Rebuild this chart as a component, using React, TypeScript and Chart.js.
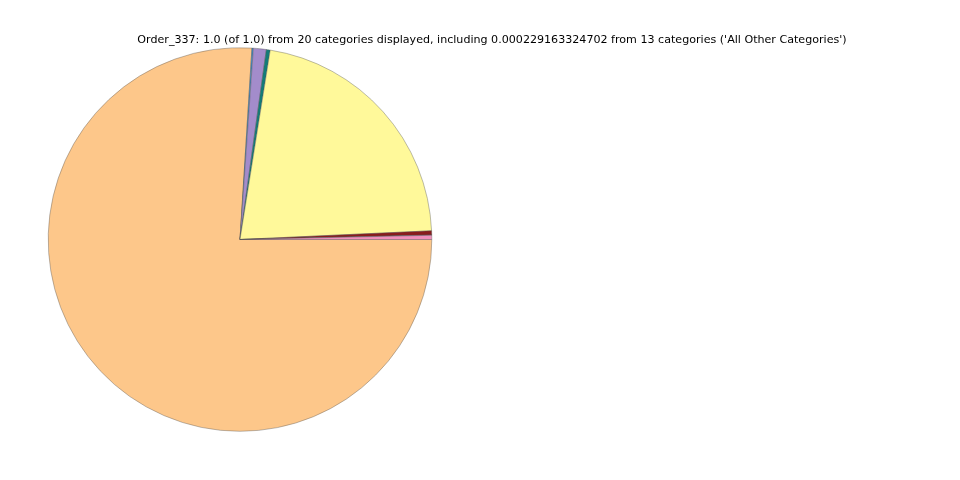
import React, { useEffect, useRef } from "react";
import { Chart, registerables } from "chart.js";

Chart.register(...registerables);

// Slices listed counter-clockwise starting at 3 o'clock (as in the reference)
const categories = [
  "Category G",
  "All Other Categories",
  "Category F",
  "Category B",
  "Category E",
  "Category C",
  "Category D",
  "Category A",
];
const shares = [0.0035, 0.000229163324702, 0.0035, 0.2175, 0.0033, 0.0108, 0.0012, 0.7598];
const colors = ["#f18fbb", "#777777", "#8a1c1c", "#fff99a", "#127c78", "#a38ccb", "#3d92d2", "#fdc78a"];
const titleText =
  "Order_337: 1.0 (of 1.0) from 20 categories displayed, including 0.000229163324702 from 13 categories ('All Other Categories')";

export default function App() {
  const ref = useRef<HTMLCanvasElement>(null);
  useEffect(() => {
    document.body.style.margin = "0";
    const ctx = ref.current!;
    const titlePlugin = {
      id: "customTitle",
      afterDraw(chart: any) {
        const c = chart.ctx;
        c.save();
        c.font = "11.1px 'DejaVu Sans'";
        c.fillStyle = "#000";
        c.textAlign = "center";
        c.textBaseline = "middle";
        c.fillText(titleText, 492, 40.5);
        c.restore();
      },
    };
    const chart = new Chart(ctx, {
      type: "pie",
      data: {
        labels: [...categories].reverse(),
        datasets: [
          {
            data: [...shares].reverse(),
            backgroundColor: [...colors].reverse(),
            borderColor: "#555555",
            borderWidth: 0.4,
          },
        ],
      },
      options: {
        animation: false,
        responsive: false,
        rotation: 90,
        layout: { padding: { left: 48, top: 47, right: 528, bottom: 48 } },
        plugins: {
          legend: { display: false },
          tooltip: { enabled: false },
          title: { display: false },
        },
      },
      plugins: [titlePlugin],
    });
    return () => chart.destroy();
  }, []);
  return (
    <div style={{ position: "absolute", left: 0, top: 0, width: 960, height: 480, background: "#fff" }}>
      <canvas ref={ref} width={960} height={480} style={{ width: 960, height: 480 }} />
    </div>
  );
}
